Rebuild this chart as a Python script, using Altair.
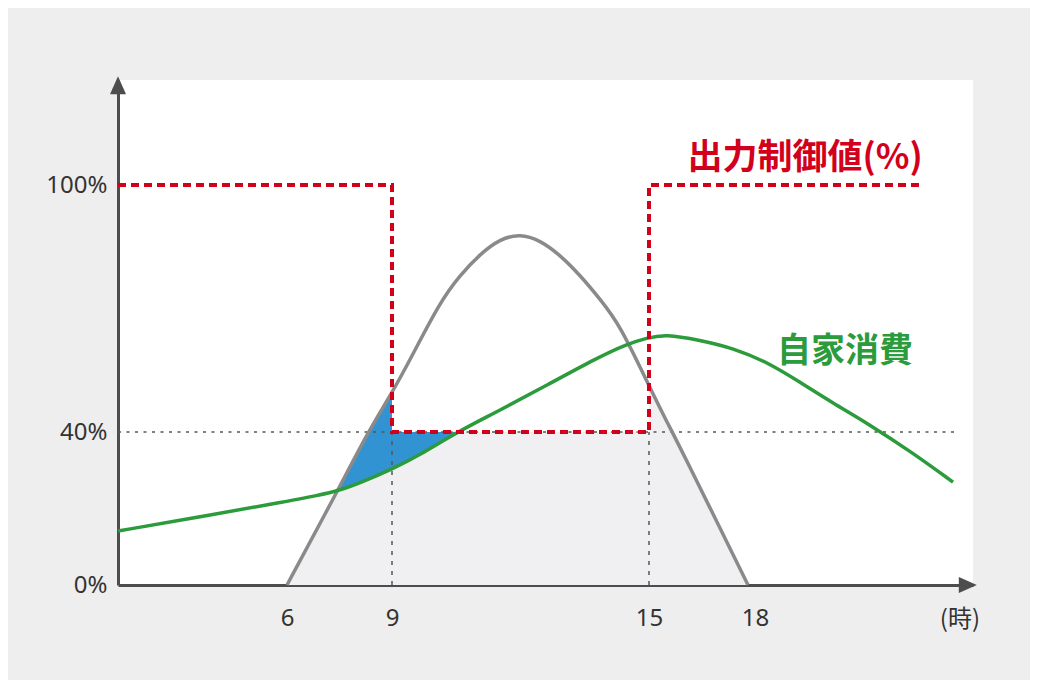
import altair as alt
import pandas as pd

# ---- data (hours, percent) ----
pv_h = [6.0, 7.457, 8.314, 9.0, 9.42, 10.121, 10.588, 11.054, 11.521, 11.988, 12.455, 12.922,
        13.389, 13.856, 14.323, 15.0, 15.509, 15.877, 17.802]
pv_v = [0.0, 24.8, 40.0, 49.5, 57.5, 71.6, 78.1, 83.2, 86.9, 88.1, 86.6, 83.0,
        78.1, 72.3, 66.0, 51.2, 42.4, 36.1, 0.0]

green_h = [0.0, 3.266, 5.645, 6.943, 7.514, 8.086, 9.0, 9.654, 10.52, 11.451, 12.619, 13.786,
           14.486, 14.953, 15.453, 16.443, 17.377, 18.33, 19.239, 20.147, 21.083, 22.349, 23.45]
green_v = [14.1, 18.3, 21.4, 23.5, 24.8, 26.7, 30.3, 34.0, 40.0, 44.9, 51.4, 58.0,
           61.4, 62.8, 63.8, 62.3, 60.4, 57.0, 52.1, 47.0, 42.2, 34.5, 26.9]

fill_h = [6.0, 7.457, 8.314, 9.0, 9.0, 15.0, 15.0, 15.509, 15.877, 17.802]
fill_v = [0.0, 24.8, 40.0, 49.5, 40.0, 40.0, 51.2, 42.4, 36.1, 0.0]

blue_h = [7.457, 8.086, 8.314, 9.0, 9.0, 9.654, 10.52]
blue_top = [24.8, 35.6, 40.0, 49.5, 40.0, 40.0, 40.0]
blue_bot = [24.8, 26.7, 27.5, 30.3, 30.3, 34.0, 40.0]

cap_h = [0.0, 9.0, 9.0, 15.0, 15.0, 22.6]
cap_v = [100, 100, 40, 40, 100, 100]

x_ticks = [6, 9, 15, 18]
y_ticks = [0, 40, 100]
limit_level = 40
guide_end_h = 23.5

RED = "#d3001c"
GREEN = "#2b9b3b"
GRAY = "#8a8a8a"
BLUE = "#3293d2"
FILL = "#f0f0f3"
FONT = "Noto Sans CJK JP"
LABEL_FONT = "Noto Sans"

xs = alt.Scale(domain=[0, 6, 9, 15, 18, 24], range=[0, 169, 274, 531, 637, 855])
ys = alt.Scale(domain=[0, 40, 100, 125.5], range=[505, 352, 105, 0])

xaxis = alt.Axis(values=x_ticks, format="d", ticks=False, grid=False, title=None,
                 domainColor="#4d4d4d", domainWidth=3, labelFontSize=24, labelColor="#333333",
                 labelFont=LABEL_FONT, labelPadding=21)
yaxis = alt.Axis(values=y_ticks, labelExpr="datum.value + '%'", ticks=False, grid=False, title=None,
                 domainColor="#4d4d4d", domainWidth=3, labelFontSize=24, labelColor="#333333",
                 labelFont=LABEL_FONT, labelPadding=11)


def X(field="h"):
    return alt.X(f"{field}:Q", scale=xs, axis=xaxis)


def Y(field="v"):
    return alt.Y(f"{field}:Q", scale=ys, axis=yaxis, stack=None)


pv_df = pd.DataFrame({"h": pv_h, "v": pv_v, "i": range(len(pv_h))})
green_df = pd.DataFrame({"h": green_h, "v": green_v, "i": range(len(green_h))})
fill_df = pd.DataFrame({"h": fill_h, "v": fill_v})
blue_df = pd.DataFrame({"h": blue_h, "top": blue_top, "bot": blue_bot})
cap_df = pd.DataFrame({"h": cap_h, "v": cap_v, "i": range(len(cap_h))})

fill_layer = alt.Chart(fill_df).mark_area(color=FILL, interpolate="linear", opacity=1).encode(
    x=X(), y=Y())

blue_layer = alt.Chart(blue_df).mark_area(color=BLUE, interpolate="linear", opacity=1).encode(
    x=X(), y=Y("top"), y2="bot:Q")

hguide = alt.Chart(pd.DataFrame({"h": [0.0], "h2": [guide_end_h], "v": [limit_level]})).mark_rule(
    color="#555555", strokeWidth=1.5, strokeDash=[3, 5.5]).encode(x=X(), x2="h2:Q", y=Y())

vguide = alt.Chart(pd.DataFrame({"h": [9.0, 15.0], "v": [0.0, 0.0], "v2": [limit_level, limit_level]})).mark_rule(
    color="#555555", strokeWidth=1.5, strokeDash=[4, 6]).encode(x=X(), y=Y(), y2="v2:Q")

pv_layer = alt.Chart(pv_df).mark_line(color=GRAY, strokeWidth=3.5, interpolate="basis").encode(
    x=X(), y=Y(), order="i:Q")

green_layer = alt.Chart(green_df).mark_line(color=GREEN, strokeWidth=3.5, interpolate="basis").encode(
    x=X(), y=Y(), order="i:Q")

cap_layer = alt.Chart(cap_df).mark_line(color=RED, strokeWidth=4, strokeDash=[8, 5]).encode(
    x=X(), y=Y(), order="i:Q")

title_df = pd.DataFrame({"h": [19.38], "v": [106.6], "t": ["出力制御値(%)"]})
green_lbl_df = pd.DataFrame({"h": [20.48], "v": [59.4], "t": ["自家消費"]})
unit_df = pd.DataFrame({"h": [23.64], "v": [-9.15], "t": ["(時)"]})

text_red = alt.Chart(title_df).mark_text(font=FONT, fontWeight="bold", fontSize=35, color=RED,
                                         align="center", baseline="middle").encode(
    x=X(), y=Y(), text="t:N")
text_green = alt.Chart(green_lbl_df).mark_text(font=FONT, fontWeight="bold", fontSize=34, color=GREEN,
                                               align="center", baseline="middle").encode(
    x=X(), y=Y(), text="t:N")
text_unit = alt.Chart(unit_df).mark_text(font=FONT, fontSize=24, color="#333333",
                                         align="center", baseline="middle").encode(
    x=X(), y=Y(), text="t:N")

arrows = pd.DataFrame({
    "h": [0.0, 23.83],
    "v": [124.0, 0.0],
    "shape": ["M0,-1L-0.8,0.8L0.8,0.8Z", "M1,0L-0.8,-0.8L-0.8,0.8Z"],
})
arrow_layer = alt.Chart(arrows).mark_point(filled=True, size=400, color="#4d4d4d", opacity=1).encode(
    x=X(), y=Y(), shape=alt.Shape("shape:N", scale=None))

chart = alt.layer(
    fill_layer, blue_layer, hguide, vguide, pv_layer, green_layer, cap_layer,
    text_red, text_green, text_unit, arrow_layer,
).properties(
    width=855, height=505,
    autosize=alt.AutoSizeParams(type="none"),
    padding={"left": 110, "top": 72, "right": 57, "bottom": 95},
    background="#eeeeee",
).configure_view(fill="white", stroke=None)

chart.save("out.html", embed_options={"renderer": "svg", "actions": False})
